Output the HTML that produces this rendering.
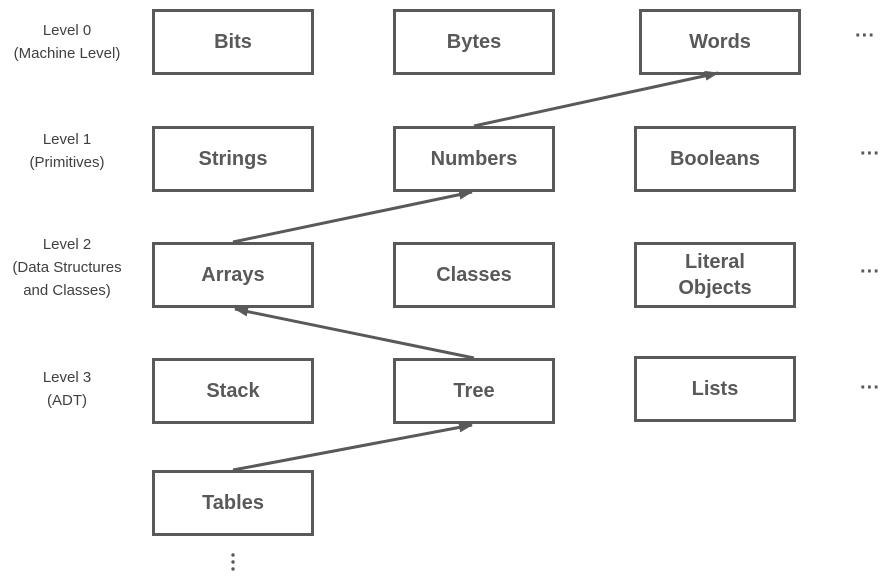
<!DOCTYPE html>
<html><head><meta charset="utf-8"><style>
body{margin:0;width:888px;height:578px;background:#fff;position:relative;overflow:hidden;font-family:"Liberation Sans",sans-serif}
.b{position:absolute;box-sizing:border-box;border:3px solid #595959;width:162px;height:66px;display:flex;align-items:center;justify-content:center;text-align:center;font-weight:bold;font-size:20px;color:#595959;line-height:26px}
.l{position:absolute;width:134px;text-align:center;font-size:15px;color:#404040;line-height:23px;left:0}
.d{position:absolute;font-size:20px;color:#595959;font-weight:bold}
</style></head><body>
<div class="l" style="top:19px">Level 0<br>(Machine Level)</div>
<div class="l" style="top:128px">Level 1<br>(Primitives)</div>
<div class="l" style="top:233px">Level 2<br>(Data Structures<br>and Classes)</div>
<div class="l" style="top:366px">Level 3<br>(ADT)</div>
<div class="b" style="left:152px;top:9px">Bits</div>
<div class="b" style="left:393px;top:9px">Bytes</div>
<div class="b" style="left:639px;top:9px">Words</div>
<div class="b" style="left:152px;top:126px">Strings</div>
<div class="b" style="left:393px;top:126px">Numbers</div>
<div class="b" style="left:634px;top:126px">Booleans</div>
<div class="b" style="left:152px;top:242px">Arrays</div>
<div class="b" style="left:393px;top:242px">Classes</div>
<div class="b" style="left:634px;top:242px">Literal<br>Objects</div>
<div class="b" style="left:152px;top:358px">Stack</div>
<div class="b" style="left:393px;top:358px">Tree</div>
<div class="b" style="left:634px;top:356px">Lists</div>
<div class="b" style="left:152px;top:470px">Tables</div>
<div class="d" style="left:855px;top:25px">···</div>
<div class="d" style="left:860px;top:143px">···</div>
<div class="d" style="left:860px;top:261px">···</div>
<div class="d" style="left:860px;top:377px">···</div>
<svg width="888" height="578" style="position:absolute;left:0;top:0">
<defs><marker id="a" markerWidth="14" markerHeight="10" refX="13" refY="5" orient="auto" markerUnits="userSpaceOnUse"><path d="M0,0L14,5L0,10z" fill="#595959"/></marker></defs>
<g stroke="#595959" stroke-width="3" fill="none">
<line x1="474" y1="126" x2="718" y2="73" marker-end="url(#a)"/>
<line x1="233" y1="242" x2="472" y2="192" marker-end="url(#a)"/>
<line x1="474" y1="358" x2="235" y2="309" marker-end="url(#a)"/>
<line x1="233" y1="470" x2="472" y2="425" marker-end="url(#a)"/>
</g>
<g fill="#595959"><circle cx="233" cy="555" r="1.7"/><circle cx="233" cy="562" r="1.7"/><circle cx="233" cy="569" r="1.7"/></g>
</svg>
</body></html>
